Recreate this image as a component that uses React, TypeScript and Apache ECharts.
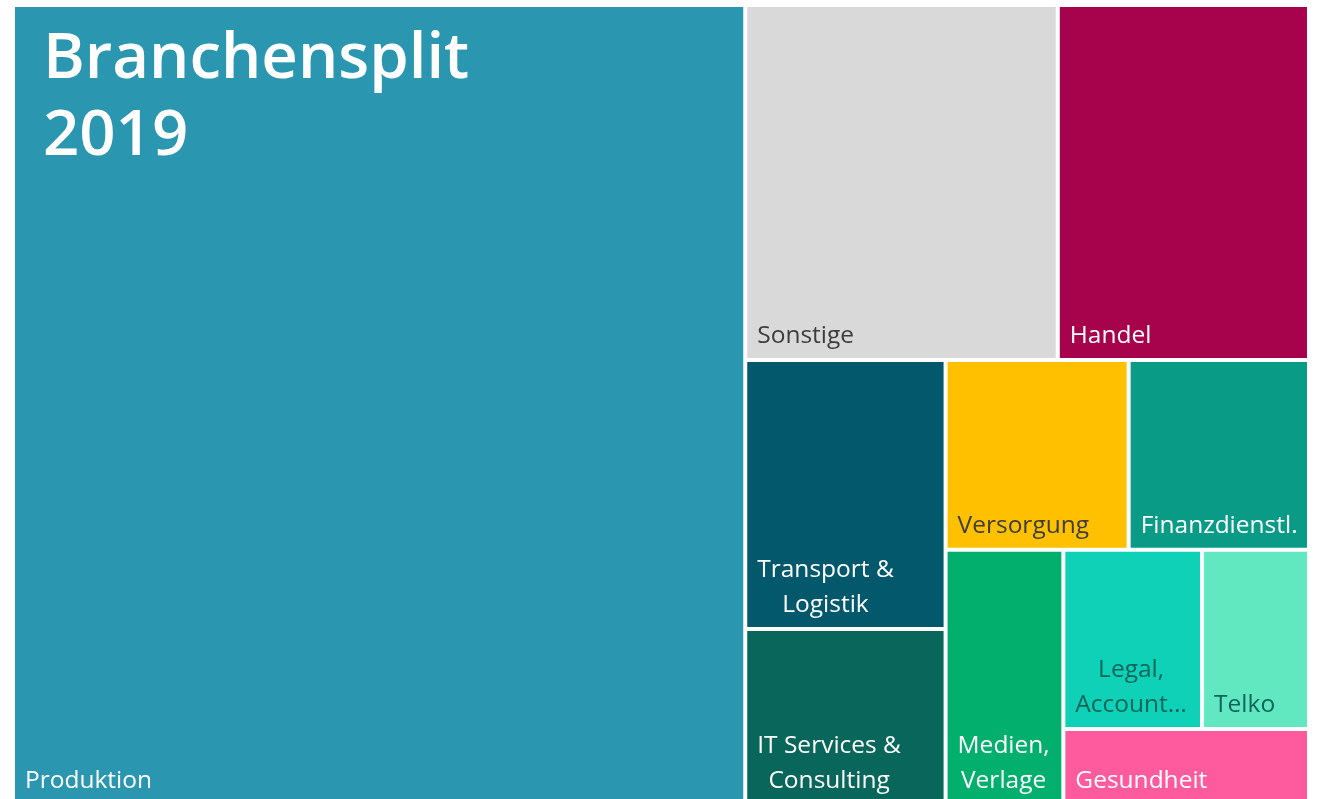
import React, { useEffect, useRef } from "react";
import * as echarts from "echarts";

const names = [
  "Produktion",
  "Sonstige",
  "Handel",
  "Transport & Logistik",
  "IT Services & Consulting",
  "Versorgung",
  "Finanzdienstl.",
  "Medien, Verlage",
  "Legal, Accounting",
  "Telko",
  "Gesundheit",
];
const shares = [56.5, 10.7, 8.6, 5.2, 3.4, 3.35, 3.3, 2.9, 2.4, 1.85, 1.8];
const labelLines = [
  ["Produktion"],
  ["Sonstige"],
  ["Handel"],
  ["Transport &", "Logistik"],
  ["IT Services &", "Consulting"],
  ["Versorgung"],
  ["Finanzdienstl."],
  ["Medien,", "Verlage"],
  ["Legal,", "Account…"],
  ["Telko"],
  ["Gesundheit"],
];
const colors = [
  "#2A96B0",
  "#D9D9D9",
  "#A7024C",
  "#03586C",
  "#08665A",
  "#FFC000",
  "#0A9B87",
  "#03AF6D",
  "#0ED1B8",
  "#61E8C1",
  "#FE5A9E",
];
const labelColors = [
  "#ffffff",
  "#3d3d3d",
  "#ffffff",
  "#ffffff",
  "#ffffff",
  "#3d3d3d",
  "#ffffff",
  "#ffffff",
  "#0C6659",
  "#0C6659",
  "#ffffff",
];
const titleText = "Branchensplit\n2019";

const FONT = "'Open Sans', 'Noto Sans', sans-serif";
const LABEL_SIZE = 24.5;

function textWidth(s: string): number {
  const ctx = document.createElement("canvas").getContext("2d");
  if (!ctx) return s.length * 12;
  ctx.font = `${LABEL_SIZE}px ${FONT}`;
  return ctx.measureText(s).width;
}

export default function App() {
  const ref = useRef<HTMLDivElement>(null);
  useEffect(() => {
    if (!ref.current) return;
    const chart = echarts.init(ref.current, null, { renderer: "svg" });
    chart.setOption({
      animation: false,
      title: {
        text: titleText,
        left: 43,
        top: 15,
        padding: 0,
        textStyle: {
          color: "#ffffff",
          fontSize: 63.5,
          fontWeight: 600,
          lineHeight: 77,
          fontFamily: FONT,
        },
      },
      series: [
        {
          type: "treemap",
          left: 15,
          top: 7,
          width: 1292,
          height: 796,
          roam: false,
          nodeClick: false,
          breadcrumb: { show: false },
          squareRatio: 0.88,
          itemStyle: { gapWidth: 4, borderWidth: 0 },
          levels: [{ itemStyle: { gapWidth: 4, borderWidth: 0 } }],
          emphasis: { disabled: true },
          label: {
            show: true,
            position: "insideBottomLeft",
            distance: 0,
            padding: 0,
            overflow: "none",
            fontSize: LABEL_SIZE,
            lineHeight: 35,
            fontFamily: FONT,
            formatter: (p: any) => labelLines[names.indexOf(p.name)].join("\n"),
          },
          data: names.map((n, i) => {
            const w = Math.max(...labelLines[i].map(textWidth));
            return {
              name: n,
              value: shares[i],
              itemStyle: { color: colors[i] },
              label: {
                color: labelColors[i],
                align: "center",
                offset: [10 + w / 2, -7],
              },
            };
          }),
        },
      ],
    });
    return () => chart.dispose();
  }, []);
  return (
    <div
      ref={ref}
      style={{ position: "fixed", left: 0, top: 0, width: 1317, height: 799 }}
    />
  );
}
